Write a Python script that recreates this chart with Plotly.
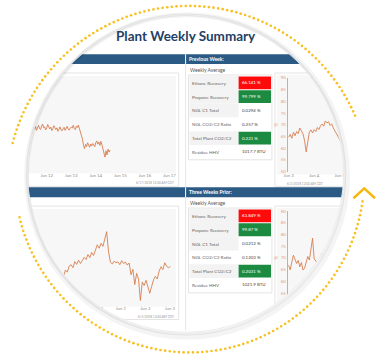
import numpy as np
import pandas as pd
import plotly.graph_objects as go

W, H = 377, 357

# ---------------- data ----------------
# Ethane recovery trend, previous week (hourly from 2018-06-11 10:00)
prev_week_values = [
    65.9, 68.8, 68.1, 69.2, 67.6, 68.9, 69.8, 68.4, 67.9, 69.5, 70.3, 68.7,
    69.1, 67.8, 68.6, 70.1, 69.4, 68.2, 69.0, 67.5, 68.3, 69.6, 68.8, 67.9,
    68.7, 67.2, 68.0, 69.1, 67.8, 67.4, 68.2, 68.9, 67.6, 68.4, 69.3, 68.1,
    67.7, 68.5, 69.0, 68.6, 69.8, 68.3, 67.9, 69.4, 68.8, 69.9, 68.5, 67.3, 66.1,
    63.8, 61.2, 59.8, 61.6, 60.7, 62.3, 61.0, 60.4, 61.8, 60.9, 62.0, 61.3,
    60.6, 62.4, 63.1, 61.7, 62.6, 61.2, 62.9, 61.5, 59.4, 57.8, 56.2, 58.9,
    57.1, 59.6, 58.3, 59.2,
]
prev_week_start = "2018-06-11 10:00"

# Detail trend, previous week (90-minute samples from 2018-06-03 00:00)
prev_detail_values = [
    64.7, 65.9, 64.2, 66.8, 65.3, 67.1, 66.2, 68.6, 67.4, 66.1, 63.2, 58.4,
    62.7, 66.9, 67.8, 66.5, 67.9, 67.1, 68.8, 68.0, 69.6, 70.3, 69.4, 71.6,
    70.8, 71.3, 69.7, 70.4, 68.6, 67.3, 66.1, 65.2, 63.8, 62.5,
]
prev_detail_start = "2018-06-03 00:00"

# Ethane recovery trend, three weeks prior (110-minute samples)
prior_values = [
    62.3, 64.8, 63.9, 66.5,
    67.1, 65.8, 68.4, 67.2, 69.0, 67.6, 68.9, 70.2,
    69.3, 71.4, 70.1, 72.3, 71.0,
    73.8, 75.6, 74.1, 76.2, 74.9, 77.8, 81.2,
    72.6, 68.1,
    67.4, 68.6, 67.9, 68.3, 67.1, 68.8, 67.6, 68.2, 66.9, 67.8,
    62.8, 65.1, 58.6, 63.4, 60.9, 51.8, 59.7, 58.2, 60.4,
    57.3, 54.9, 57.8, 60.6, 62.1, 61.0, 64.3, 66.2, 65.0, 67.9, 66.4, 65.8, 66.3,
]
prior_start = "2018-05-29 16:00"

# Detail trend, three weeks prior (90-minute samples)
prior_detail_values = [
    66.8, 64.9, 68.2, 71.1, 69.4, 67.6, 68.9, 66.2, 68.0, 64.8, 65.6, 67.9,
    70.6, 69.1, 73.2, 78.4, 69.6, 68.5, 67.7, 66.8, 70.2, 71.9, 70.8, 73.6,
    74.0, 72.9, 76.1, 77.4, 76.3, 79.1,
]
prior_detail_start = "2018-05-13 00:00"

metric_labels = ["Ethane Recovery", "Propane Recovery", "NGL C1 Total",
                 "NGL CO2/C2 Ratio", "Total Plant CO2/C2", "Residue HHV"]
prev_metrics = ["66.141 %", "99.799 %", "0.0294 %", "0.257 %", "0.221 %", "1017.7 BTU"]
prior_metrics = ["63.849 %", "99.87 %", "0.0212 %", "0.1203 %", "0.2031 %", "1021.9 BTU"]
metric_status = ["bad", "good", None, None, "good", None]

# ---------------- styles ----------------
NAVY = "#243f66"
BANNER = "#2b5a84"
RED = "#ff0a0a"
GREEN = "#1c8a40"
TREND = "rgba(214,120,70,0.85)"
AXIS_ORANGE = "#eca27a"
PANEL_BG = "#f7f7f7"
BORDER = "#e4e4e4"
GOLD = "#f8c020"
FONT = "Lato"

CX, CY, R = 183, 174, 161  # dashboard lens
LEFT, RIGHT = 10, W - 10   # dashboard canvas edges (hidden behind the lens mask)

shapes, annotations = [], []


def fx(x):
    return x / W


def fy(y):
    return 1 - y / H


def rect(x0, y0, x1, y1, fill, line=None, lw=0):
    shapes.append(dict(type="rect", xref="paper", yref="paper",
                       x0=fx(x0), x1=fx(x1), y0=fy(y1), y1=fy(y0),
                       fillcolor=fill, layer="below",
                       line=dict(color=line or "rgba(0,0,0,0)", width=lw)))


def vline(x, y0, y1, color, lw=1):
    shapes.append(dict(type="line", xref="paper", yref="paper",
                       x0=fx(x), x1=fx(x), y0=fy(y0), y1=fy(y1),
                       line=dict(color=color, width=lw), layer="below"))


def text(x, y, s, size, color, anchor="left", family=FONT):
    annotations.append(dict(xref="paper", yref="paper", x=fx(x), y=fy(y),
                            text=s, showarrow=False, xanchor=anchor,
                            yanchor="middle", borderpad=0,
                            font=dict(size=size, color=color, family=family)))


def section(top, banner_text, values, stamp_left, stamp_right):
    # banner
    rect(LEFT, top, RIGHT, top + 10, BANNER)
    vline(183, top, top + 10, "#ffffff", 1)
    text(185, top + 5, f"<b>{banner_text}</b>", 5, "#ffffff")
    text(186, top + 16, "Weekly Average", 5, "#555555")
    vline(183, top + 10, top + 145, "#e6e6e6", 1)
    # chart panels
    rect(LEFT, top + 19, 176, top + 134, "#ffffff", BORDER, 1)
    rect(LEFT, top + 22, 173, top + 121, PANEL_BG)
    rect(274, top + 19, RIGHT, top + 134, "#ffffff", BORDER, 1)
    rect(276, top + 21, RIGHT, top + 122, PANEL_BG)
    # metrics table
    row_h = 14
    t0 = top + 22
    rect(186, t0 - 1, 271, t0 + 6 * row_h + 1, "#ffffff", BORDER, 1)
    for i, (lab, val, st) in enumerate(zip(metric_labels, values, metric_status)):
        y0 = t0 + i * row_h
        if i in (0, 1, 2, 4):
            rect(187, y0, 237, y0 + row_h, "#f3f3f3")
        if st is not None:
            rect(237, y0 + 0.5, 270, y0 + row_h - 0.5, RED if st == "bad" else GREEN)
        text(189, y0 + row_h / 2, lab, 4.6, "#666666")
        text(239.5, y0 + row_h / 2, val, 4.4, "#ffffff" if st else "#444444")
    # date stamps
    text(172, top + 131, stamp_left, 3.2, "#999999", anchor="right")
    if stamp_right:
        text(285, top + 132, stamp_right, 3.2, "#999999")


section(53, "Previous Week:", prev_metrics,
        "6/17/2018 12:00 AM CDT", "6/3/2018 12:00 AM CDT")
section(188, "Three Weeks Prior:", prior_metrics,
        "6/3/2018 12:00 AM CDT", "")

text(CX, 34, "<b>Plant Weekly Summary</b>", 13.5, NAVY, anchor="center")

# ---- overlay: white mask outside the lens, rim, dotted orbit, arrow ----
phi = np.linspace(0, 2 * np.pi, 360, endpoint=False)


def poly(xs, ys):
    pts = " L".join(f"{fx(a):.5f},{fy(b):.5f}" for a, b in zip(xs, ys))
    return "M" + pts + " Z"


outer = poly([-4, W + 4, W + 4, -4], [-4, -4, H + 4, H + 4])
lens = poly(CX + R * np.cos(phi), CY + R * np.sin(phi))
shapes.append(dict(type="path", xref="paper", yref="paper", path=outer + " " + lens,
                   fillcolor="#ffffff", fillrule="evenodd", layer="above",
                   line=dict(width=0, color="rgba(0,0,0,0)")))


def ring(cx, cy, r, color, lw):
    shapes.append(dict(type="circle", xref="paper", yref="paper",
                       x0=fx(cx - r), x1=fx(cx + r), y0=fy(cy + r), y1=fy(cy - r),
                       line=dict(color=color, width=lw), layer="above"))


ring(CX + 1.5, CY + 2.5, R + 2.5, "rgba(0,0,0,0.045)", 5)
ring(CX + 0.5, CY + 1, R + 1, "rgba(0,0,0,0.07)", 2.5)
ring(CX, CY, R, "#ececec", 1)


def arc_dots(cx, cy, r, a0, a1, step=4.7):
    n = int(abs(np.radians(a1 - a0)) * r / step) + 1
    ang = np.radians(np.linspace(a0, a1, n))
    return cx + r * np.cos(ang), cy - r * np.sin(ang)


DOT = 1.35
for cx, cy, r, a0, a1 in [(186, 189, 185, 165.6, 23.5),
                          (187, 177.4, 178, 193.3, 352.0)]:
    for dx, dy in zip(*arc_dots(cx, cy, r, a0, a1)):
        shapes.append(dict(type="circle", xref="paper", yref="paper",
                           x0=fx(dx - DOT), x1=fx(dx + DOT),
                           y0=fy(dy + DOT), y1=fy(dy - DOT),
                           fillcolor=GOLD, line=dict(width=0), layer="above"))

shapes.append(dict(type="path", xref="paper", yref="paper",
                   path=f"M{fx(354)},{fy(199)} L{fx(365)},{fy(189)} L{fx(376)},{fy(199)}",
                   line=dict(color="#f6b80f", width=2.5), layer="above"))

fig = go.Figure()


def series(values, start, freq, axis):
    t = pd.date_range(start, periods=len(values), freq=freq)
    fig.add_trace(go.Scatter(x=t, y=values, mode="lines", xaxis=f"x{axis}",
                             yaxis=f"y{axis}", hoverinfo="skip",
                             line=dict(color=TREND, width=1)))


series(prev_week_values, prev_week_start, "h", "")
series(prev_detail_values, prev_detail_start, "90min", "2")
series(prior_values, prior_start, "110min", "3")
series(prior_detail_values, prior_detail_start, "90min", "4")

xdate = dict(type="date", showgrid=False, zeroline=False, showline=False,
             ticks="", tickformat="%b %-d", dtick=86400000,
             tickfont=dict(size=4.3, color="#8c8c8c", family=FONT))
yval = dict(range=[50, 90], dtick=5, showgrid=False, zeroline=False,
            showline=True, linecolor=AXIS_ORANGE, linewidth=1, ticks="",
            tickfont=dict(size=4.3, color="#e39a72", family=FONT),
            title=dict(text="%", font=dict(size=4.5, color=AXIS_ORANGE), standoff=2))
# the overview charts' value axis sits outside the lens, so it is not drawn
yhidden = dict(range=[50, 90], visible=False)


def dom_x(a, b):
    return [a / W, b / W]


def dom_y(a, b):
    return [1 - b / H, 1 - a / H]


fig.update_layout(
    width=W, height=H, margin=dict(l=0, r=0, t=0, b=0),
    paper_bgcolor="#ffffff", plot_bgcolor="rgba(0,0,0,0)", showlegend=False,
    shapes=shapes, annotations=annotations,
    xaxis=dict(xdate, domain=dom_x(0, 172),
               range=["2018-06-10 08:10", "2018-06-17 05:20"], anchor="y"),
    yaxis=dict(yhidden, domain=dom_y(77, 172), anchor="x"),
    xaxis2=dict(xdate, domain=dom_x(287, W),
                range=["2018-06-02 23:05", "2018-06-06 10:10"], anchor="y2"),
    yaxis2=dict(yval, domain=dom_y(77, 172), anchor="x2"),
    xaxis3=dict(xdate, domain=dom_x(0, 172),
                range=["2018-05-27 07:40", "2018-06-03 04:50"], anchor="y3"),
    yaxis3=dict(yhidden, domain=dom_y(212, 307), anchor="x3"),
    xaxis4=dict(xdate, domain=dom_x(287, W),
                range=["2018-05-12 23:05", "2018-05-16 10:10"], anchor="y4"),
    yaxis4=dict(yval, domain=dom_y(212, 307), anchor="x4"),
)

fig.write_html("out.html")
